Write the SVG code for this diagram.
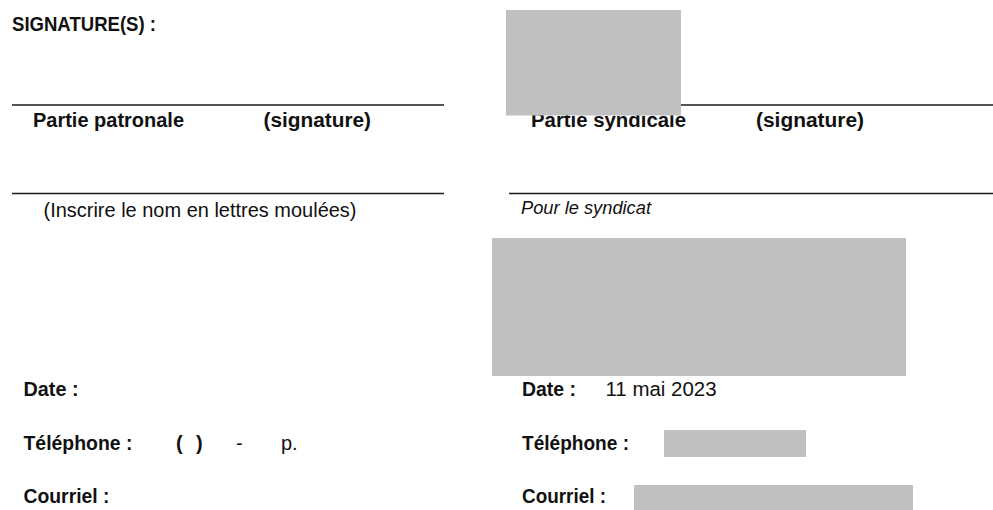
<svg xmlns="http://www.w3.org/2000/svg" width="993" height="510" viewBox="0 0 993 510">
  <style>
    text { font-family: "Liberation Sans", Arial, sans-serif; fill: #111; }
    .b { font-weight: bold; font-size: 20px; }
    .r { font-size: 20px; }
    .i { font-style: italic; font-size: 18px; }
    .rule { stroke: #1a1a1a; stroke-width: 1.3; }
    .mask { fill: #c0c0c0; }
  </style>
  <rect width="993" height="510" fill="#ffffff"/>

  <g id="title">
    <text class="b" x="12" y="30.5" textLength="144" lengthAdjust="spacingAndGlyphs">SIGNATURE(S) :</text>
  </g>

  <g id="rules">
    <line class="rule" x1="12" y1="105" x2="444" y2="105"/>
    <line class="rule" x1="12" y1="193.5" x2="444" y2="193.5"/>
    <line class="rule" x1="509" y1="105" x2="993" y2="105"/>
    <line class="rule" x1="509" y1="193.5" x2="993" y2="193.5"/>
  </g>

  <g id="employer">
    <text class="b" x="33" y="126.5" textLength="151" lengthAdjust="spacingAndGlyphs">Partie patronale</text>
    <text class="b" x="263.5" y="126.5" textLength="107.5" lengthAdjust="spacingAndGlyphs">(signature)</text>
    <text class="r" x="43.5" y="217" textLength="313" lengthAdjust="spacingAndGlyphs">(Inscrire le nom en lettres moulées)</text>
    <text class="b" x="23.5" y="396" textLength="55" lengthAdjust="spacingAndGlyphs">Date :</text>
    <text class="b" x="23.5" y="450" textLength="109" lengthAdjust="spacingAndGlyphs">Téléphone :</text>
    <text class="b" x="176" y="450">(</text>
    <text class="b" x="196" y="450">)</text>
    <text class="r" x="236" y="450">-</text>
    <text class="r" x="281" y="450">p.</text>
    <text class="b" x="23.5" y="503" textLength="86" lengthAdjust="spacingAndGlyphs">Courriel :</text>
  </g>

  <g id="union">
    <text class="b" x="531" y="126.5" textLength="155" lengthAdjust="spacingAndGlyphs">Partie syndicale</text>
    <text class="b" x="756" y="126.5" textLength="108" lengthAdjust="spacingAndGlyphs">(signature)</text>
    <text class="i" x="521" y="214" textLength="130" lengthAdjust="spacingAndGlyphs">Pour le syndicat</text>
    <text class="b" x="522" y="396" textLength="54" lengthAdjust="spacingAndGlyphs">Date :</text>
    <text class="r" x="605.5" y="396" textLength="111" lengthAdjust="spacingAndGlyphs">11 mai 2023</text>
    <text class="b" x="522" y="450" textLength="107" lengthAdjust="spacingAndGlyphs">Téléphone :</text>
    <text class="b" x="522" y="503" textLength="84" lengthAdjust="spacingAndGlyphs">Courriel :</text>
  </g>

  <g id="redactions">
    <rect class="mask" x="506" y="10" width="175" height="105.5"/>
    <rect class="mask" x="492" y="238" width="414" height="138"/>
    <rect class="mask" x="664" y="430" width="142" height="27"/>
    <rect class="mask" x="634" y="485" width="279" height="25"/>
  </g>
</svg>
